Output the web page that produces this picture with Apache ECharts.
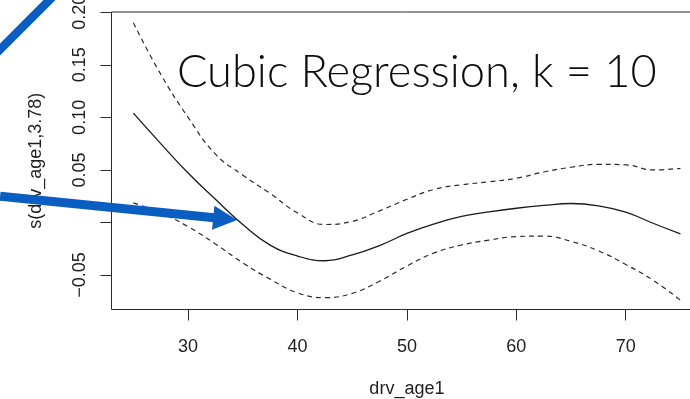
<!DOCTYPE html>
<html>
<head>
<meta charset="utf-8">
<script src="https://cdn.jsdelivr.net/npm/echarts@6/dist/echarts.min.js"></script>
<style>
  html, body { margin: 0; padding: 0; background: #ffffff; }
  #chart { width: 690px; height: 399px; }
</style>
</head>
<body>
<div id="chart"></div>
<script>
// Smooth term s(drv_age1) from a cubic regression spline (k = 10),
// with its upper and lower confidence bands.
const ageGrid = [25, 27.5, 30, 32.5, 35, 37.5, 40, 42.5, 45, 47.5, 50,
                 52.5, 55, 57.5, 60, 62.5, 65, 67.5, 70, 72.5, 75];
const fitValues = [0.104, 0.075, 0.047, 0.022, -0.002, -0.0216, -0.032, -0.0365,
                   -0.031, -0.022, -0.0105, -0.0014, 0.0057, 0.010, 0.0135,
                   0.0162, 0.0180, 0.0158, 0.0098, -0.0008, -0.011];
const upperValues = [0.190, 0.141, 0.100, 0.065, 0.045, 0.0276, 0.009, -0.002,
                     0.001, 0.011, 0.022, 0.0315, 0.0358, 0.0386, 0.042,
                     0.048, 0.0525, 0.0553, 0.0548, 0.050, 0.0515];
const lowerValues = [0.0186, 0.009, -0.004, -0.0205, -0.0385, -0.054, -0.067,
                     -0.0716, -0.0675, -0.056, -0.0415, -0.029, -0.0215,
                     -0.0168, -0.0135, -0.013, -0.018, -0.027, -0.040,
                     -0.055, -0.074];

// Axis ticks and labels
const xTicks = [30, 40, 50, 60, 70];
const yTicks = [-0.05, 0, 0.05, 0.10, 0.15, 0.20];
const yTickLabels = [-0.05, 0.05, 0.10, 0.15, 0.20];

const titleText = 'Cubic Regression, k = 10';
const xName = 'drv_age1';
const yName = 's(drv_age1,3.78)';

// Annotation arrows, given in data coordinates
const pointerArrow = { from: [12.82, 0.025], to: [34.48, 0.0022] };
const cornerArrow = { from: [12.36, 0.160], to: [17.75, 0.2161] };

const pairs = vals => ageGrid.map((x, i) => [x, vals[i]]);

const axisFont = 'Liberation Sans, Arial, Helvetica, sans-serif';
const ink = '#1e1e1e';

const chart = echarts.init(document.getElementById('chart'), null, { renderer: 'canvas' });

const option = {
  backgroundColor: '#ffffff',
  animation: false,
  grid: {
    left: 111.5, top: 12, right: -12.3, bottom: 89.5,
    show: true, borderColor: '#2a2a2a', borderWidth: 1,
    backgroundColor: 'transparent',
    outerBoundsMode: 'none'
  },
  xAxis: {
    type: 'value', min: 23, max: 77,
    name: xName, nameLocation: 'middle', nameGap: 71,
    nameTextStyle: { fontFamily: axisFont, fontSize: 18, color: ink },
    axisLine: { show: false, onZero: false },
    axisTick: { show: true, length: 11, inside: false, customValues: xTicks,
                lineStyle: { color: '#2a2a2a', width: 1 } },
    axisLabel: { show: true, customValues: xTicks, margin: 29,
                 fontFamily: axisFont, fontSize: 18, color: ink },
    splitLine: { show: false }
  },
  yAxis: {
    type: 'value', min: -0.0829, max: 0.2003,
    name: yName, nameLocation: 'middle', nameGap: 66,
    nameTextStyle: { fontFamily: axisFont, fontSize: 18, color: ink },
    axisLine: { show: false, onZero: false },
    axisTick: { show: true, length: 11, inside: false, customValues: yTicks,
                lineStyle: { color: '#2a2a2a', width: 1 } },
    axisLabel: {
      show: true, customValues: yTickLabels, rotate: 90, margin: 22,
      fontFamily: axisFont, fontSize: 18, color: ink,
      formatter: v => (v < 0 ? '\u2212' : '') + Math.abs(v).toFixed(2)
    },
    splitLine: { show: false }
  },
  series: [
    {
      name: 'fit', type: 'line', data: pairs(fitValues),
      smooth: 0.45, showSymbol: false, silent: true,
      lineStyle: { color: '#1a1a1a', width: 1.3, type: 'solid' }
    },
    {
      name: 'upper', type: 'line', data: pairs(upperValues),
      smooth: 0.45, showSymbol: false, silent: true,
      lineStyle: { color: '#2a2a2a', width: 1.2, type: [5, 4] }
    },
    {
      name: 'lower', type: 'line', data: pairs(lowerValues),
      smooth: 0.45, showSymbol: false, silent: true,
      lineStyle: { color: '#2a2a2a', width: 1.2, type: [5, 4] }
    }
  ]
};

chart.setOption(option);

// Overlay: title text and blue arrows placed through the axis scales
function arrowShapes(a, width, headLen, headHalf, withHead) {
  const s = chart.convertToPixel({ gridIndex: 0 }, a.from);
  const t = chart.convertToPixel({ gridIndex: 0 }, a.to);
  const dx = t[0] - s[0], dy = t[1] - s[1];
  const len = Math.hypot(dx, dy);
  const ux = dx / len, uy = dy / len;
  const nx = -uy, ny = ux;
  const blue = '#0b5ec1';
  const out = [];
  if (withHead) {
    const bx = t[0] - ux * headLen, by = t[1] - uy * headLen;
    out.push({
      type: 'line', z: 100,
      shape: { x1: s[0], y1: s[1], x2: bx + ux * 1, y2: by + uy * 1 },
      style: { stroke: blue, lineWidth: width }
    });
    out.push({
      type: 'polygon', z: 100,
      shape: { points: [[t[0], t[1]], [bx + nx * headHalf, by + ny * headHalf], [bx - nx * headHalf, by - ny * headHalf]] },
      style: { fill: blue }
    });
  } else {
    out.push({
      type: 'line', z: 100,
      shape: { x1: s[0], y1: s[1], x2: t[0], y2: t[1] },
      style: { stroke: blue, lineWidth: width }
    });
  }
  return out;
}

chart.setOption({
  graphic: [
    {
      type: 'text', z: 90, left: 177, top: 49.5,
      style: {
        text: titleText, fill: '#0d0d0d',
        font: '300 45.2px Lato, "Noto Sans", sans-serif'
      }
    },
    ...arrowShapes(cornerArrow, 8.5, 0, 0, false),
    ...arrowShapes(pointerArrow, 9, 24, 12, true)
  ]
});
</script>
</body>
</html>
